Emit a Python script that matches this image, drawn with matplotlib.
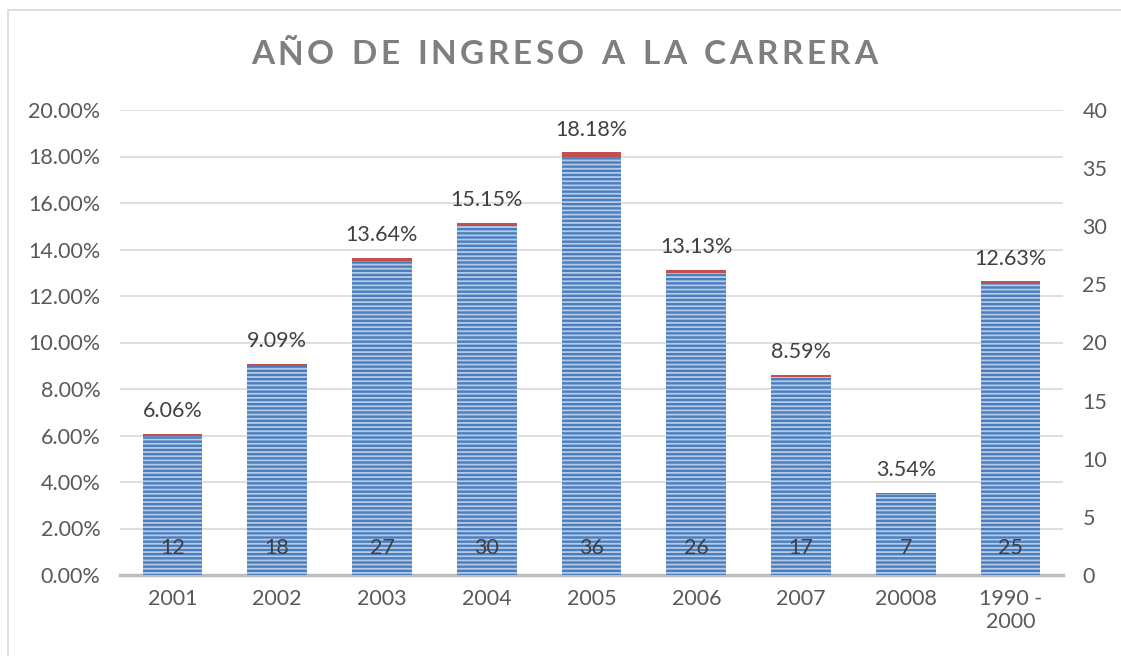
import matplotlib
matplotlib.use("Agg")
import matplotlib.pyplot as plt
from matplotlib.patches import Rectangle
import numpy as np

plt.rcParams['font.family'] = ['Lato', 'DejaVu Sans']
plt.rcParams['hatch.linewidth'] = 1.3

# data
years = ['2001', '2002', '2003', '2004', '2005', '2006', '2007', '20008', '1990 -\n2000']
counts = [12, 18, 27, 30, 36, 26, 17, 7, 25]
percents = [6.06, 9.09, 13.64, 15.15, 18.18, 13.13, 8.59, 3.54, 12.63]
title = 'AÑO DE INGRESO A LA CARRERA'

txt = '#595959'
grid = '#d9d9d9'
fs = 15.5

fig = plt.figure(figsize=(11.21, 6.56), dpi=100)
fig.patches.append(Rectangle((8 / 1121, -0.1), 1.2, 1.1 - 10 / 656,
                             transform=fig.transFigure, fill=False,
                             edgecolor=grid, linewidth=1.2))

ax = fig.add_axes([120 / 1121, 1 - 575 / 656, (1063 - 120) / 1121, (575 - 110) / 656])
x = np.arange(len(years))
w = 0.57

# percent series (left axis), mostly hidden behind the counts
ax.bar(x, percents, width=w, color='#c0504d', zorder=2)
ax.set_ylim(0, 20)
ax.set_yticks(np.arange(0, 20.1, 2))
ax.set_yticklabels(['%.2f%%' % v for v in np.arange(0, 20.1, 2)])
ax.set_xlim(-0.5, len(years) - 0.5)
ax.set_xticks(x)
ax.set_xticklabels(years)
ax.grid(axis='y', color=grid, linewidth=1.2, zorder=0)
ax.set_axisbelow(True)
for s in ['top', 'right', 'left']:
    ax.spines[s].set_visible(False)
ax.spines['bottom'].set_color('#bfbfbf')
ax.spines['bottom'].set_linewidth(2.5)
ax.tick_params(length=0, labelsize=fs, colors=txt, pad=14)
ax.tick_params(axis='x', pad=10)

# count series (right axis), striped bars
ax2 = ax.twinx()
ax2.bar(x, counts, width=w, color='#4a7ebf', linewidth=0, zorder=2)
ax2.bar(x, counts, width=w, facecolor='none', edgecolor=(1, 1, 1, 0.6),
        hatch='----', linewidth=0, zorder=3)
ax2.set_ylim(0, 40)
ax2.set_yticks(np.arange(0, 41, 5))
for s in ax2.spines.values():
    s.set_visible(False)
ax2.tick_params(length=0, labelsize=fs, colors=txt, pad=14)

for xi, p in zip(x, percents):
    ax.text(xi, p + 0.55, '%.2f%%' % p, ha='center', va='bottom', fontsize=fs, color='#404040')
for xi, c in zip(x, counts):
    ax2.text(xi, 2.3, str(c), ha='center', va='center', fontsize=fs, color='#404040', zorder=5)

# title with letter spacing, laid out one character at a time
renderer = fig.canvas.get_renderer()
spacing = 3.6
tfs = 24
widths = []
for ch in title:
    t = fig.text(0, 0, ch if ch != ' ' else 'n', fontsize=tfs, fontweight='bold')
    widths.append(t.get_window_extent(renderer).width * (0.55 if ch == ' ' else 1))
    t.remove()
total = sum(widths) + spacing * (len(title) - 1)
xpos = 564 - total / 2
for ch, wd in zip(title, widths):
    fig.text(xpos / 1121, 1 - 55 / 656, ch, ha='left', va='center', fontsize=tfs,
             fontweight='bold', color='#7f7f7f')
    xpos += wd + spacing

fig.savefig('out.png', dpi=100)
